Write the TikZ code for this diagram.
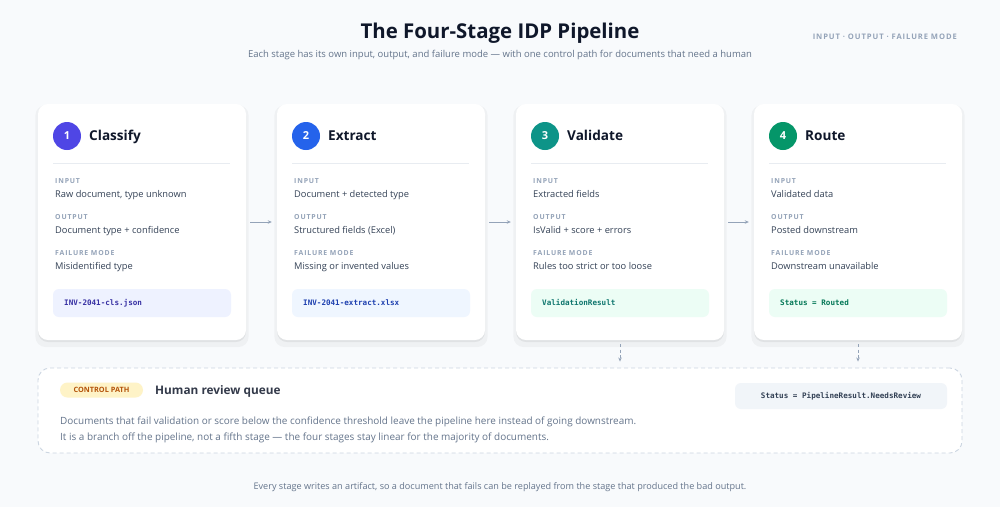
\documentclass[tikz,border=0pt]{standalone}
\usepackage{fontspec}
\setmainfont{Open Sans}
\newfontfamily\capsfont{Open Sans}[LetterSpace=12]
\newfontfamily\monofont{DejaVu Sans Mono}
\usetikzlibrary{shadows,arrows.meta}
\definecolor{bg}{HTML}{F8FAFC}
\definecolor{ink}{HTML}{0F172A}
\definecolor{sub}{HTML}{64748B}
\definecolor{lab}{HTML}{94A3B8}
\definecolor{val}{HTML}{334155}
\definecolor{divc}{HTML}{E8ECF1}
\definecolor{num1}{HTML}{4F46E5}
\definecolor{num2}{HTML}{2563EB}
\definecolor{num3}{HTML}{0D9488}
\definecolor{num4}{HTML}{059669}
\definecolor{fill1}{HTML}{EEF2FF}
\definecolor{fill2}{HTML}{EFF6FF}
\definecolor{fill3}{HTML}{ECFDF5}
\definecolor{fill4}{HTML}{ECFDF5}
\definecolor{txt1}{HTML}{3730A3}
\definecolor{txt2}{HTML}{1E40AF}
\definecolor{txt3}{HTML}{0F766E}
\definecolor{txt4}{HTML}{047857}
\definecolor{dashc}{HTML}{CBD5E1}
\definecolor{pillfill}{HTML}{FEF3C7}
\definecolor{pilltext}{HTML}{B45309}
\definecolor{statfill}{HTML}{F1F5F9}
\tikzset{
  card/.style={fill=white, rounded corners=10pt, minimum width=208pt, minimum height=236pt,
    drop shadow={shadow xshift=0pt, shadow yshift=-4pt, shadow scale=1.025, opacity=0.035, fill=black},
    drop shadow={shadow xshift=0pt, shadow yshift=-2pt, opacity=0.06, fill=black}},
  numdot/.style={circle, minimum size=28pt, inner sep=0pt, text=white, font=\bfseries\fontsize{11}{11}\selectfont},
  stagetitle/.style={anchor=west, inner sep=0pt, text height=9.8pt, text depth=0pt, text=ink, font=\bfseries\fontsize{13.6}{15}\selectfont},
  divider/.style={draw=divc, line width=0.8pt},
  fieldlab/.style={anchor=west, inner sep=0pt, text height=5pt, text depth=0pt, text=lab, font=\capsfont\bfseries\fontsize{6.9}{8}\selectfont},
  fieldval/.style={anchor=west, inner sep=0pt, text height=6.7pt, text depth=0pt, text=val, font=\fontsize{9.3}{11}\selectfont},
  artbox/.style={rounded corners=6pt, minimum width=178pt, minimum height=28pt, inner sep=0pt},
  arttext/.style={anchor=west, inner sep=0pt, text height=5.5pt, text depth=0pt, font=\monofont\bfseries\fontsize{7.6}{9}\selectfont},
  flow/.style={draw=lab, line width=1pt, -{Stealth[length=4pt,width=3.5pt]}},
  dflow/.style={draw=lab, line width=1pt, dash pattern=on 3pt off 2.5pt, -{Stealth[length=4pt,width=3.5pt]}},
}
\newcommand\stagecard[7]{%
  \node[card] (card#1) at (#2+104,222) {};
  \node[numdot, fill=num#1] (n#1) at (#2+29,136) {#1};
  \node[stagetitle] (t#1) at (#2+51,136) {#3};
  \draw[divider] (#2+15,163) -- (#2+192,163);
  \node[fieldlab] (li#1) at (#2+17,181) {INPUT};
  \node[fieldval] (vi#1) at (#2+17,194) {#4};
  \node[fieldlab] (lo#1) at (#2+17,217) {OUTPUT};
  \node[fieldval] (vo#1) at (#2+17,230) {#5};
  \node[fieldlab] (lf#1) at (#2+17,253) {FAILURE MODE};
  \node[fieldval] (vf#1) at (#2+17,266) {#6};
  \node[artbox, fill=fill#1] (a#1) at (#2+104,303) {};
  \node[arttext, text=txt#1] (at#1) at (#2+26,303) {#7};
}
\begin{document}
\begin{tikzpicture}[x=1pt,y=-1pt]
\fill[bg] (0,0) rectangle (1000,507);
\useasboundingbox (0,0) rectangle (1000,507);
% header
\node[text=ink, font=\bfseries\fontsize{20.4}{22}\selectfont] (title) at (500,33) {The Four-Stage IDP Pipeline};
\node[text=sub, font=\fontsize{9.5}{11}\selectfont] (subtitle) at (500,55) {Each stage has its own input, output, and failure mode — with one control path for documents that need a human};
\node[anchor=east, inner sep=0pt, text=lab, font=\capsfont\bfseries\fontsize{7.6}{9}\selectfont] (legend) at (957,37) {INPUT · OUTPUT · FAILURE MODE};
% cards
\stagecard{1}{38}{Classify}{Raw document, type unknown}{Document type + confidence}{Misidentified type}{INV-2041-cls.json}
\stagecard{2}{277}{Extract}{Document + detected type}{Structured fields (Excel)}{Missing or invented values}{INV-2041-extract.xlsx}
\stagecard{3}{516}{Validate}{Extracted fields}{IsValid + score + errors}{Rules too strict or too loose}{ValidationResult}
\stagecard{4}{754}{Route}{Validated data}{Posted downstream}{Downstream unavailable}{Status = Routed}
% flow arrows
\draw[flow] ([xshift=4pt]card1.east) -- ([xshift=-5pt]card2.west);
\draw[flow] ([xshift=4pt]card2.east) -- ([xshift=-5pt]card3.west);
\draw[flow] ([xshift=4pt]card3.east) -- ([xshift=-5pt]card4.west);
% control box
\node[draw=dashc, fill=white, line width=0.9pt, dash pattern=on 4pt off 3pt, rounded corners=12pt,
      minimum width=924pt, minimum height=85pt] (ctrl) at (500,410.5) {};
\draw[dflow] ([yshift=-4pt]card3.south) -- ([yshift=6pt]card3.south |- ctrl.north);
\draw[dflow] ([yshift=-4pt]card4.south) -- ([yshift=6pt]card4.south |- ctrl.north);
\node[fill=pillfill, rounded corners=7.5pt, minimum width=83pt, minimum height=15pt, inner sep=0pt,
      text=pilltext, font=\bfseries\fontsize{7.3}{8}\selectfont] (pill) at (101.5,390) {CONTROL PATH};
\node[anchor=west, inner sep=0pt, text height=8.5pt, text depth=0pt, text=ink!85!white, font=\bfseries\fontsize{11.8}{13}\selectfont] (ctitle) at (155,390) {Human review queue};
\node[fill=statfill, rounded corners=6pt, minimum width=212pt, minimum height=26pt, inner sep=0pt,
      text=val, font=\monofont\bfseries\fontsize{7.6}{9}\selectfont] (status) at (841,396) {Status = PipelineResult.NeedsReview};
\node[anchor=west, inner sep=0pt, text height=7.2pt, text depth=0pt, text=sub, font=\fontsize{9.95}{11}\selectfont] (body1) at (60,421) {Documents that fail validation or score below the confidence threshold leave the pipeline here instead of going downstream.};
\node[anchor=west, inner sep=0pt, text height=7.2pt, text depth=0pt, text=sub, font=\fontsize{9.95}{11}\selectfont] (body2) at (60,437) {It is a branch off the pipeline, not a fifth stage — the four stages stay linear for the majority of documents.};
% footer
\node[text=sub, font=\fontsize{9.1}{10}\selectfont] (footer) at (500,487) {Every stage writes an artifact, so a document that fails can be replayed from the stage that produced the bad output.};
\end{tikzpicture}
\end{document}
